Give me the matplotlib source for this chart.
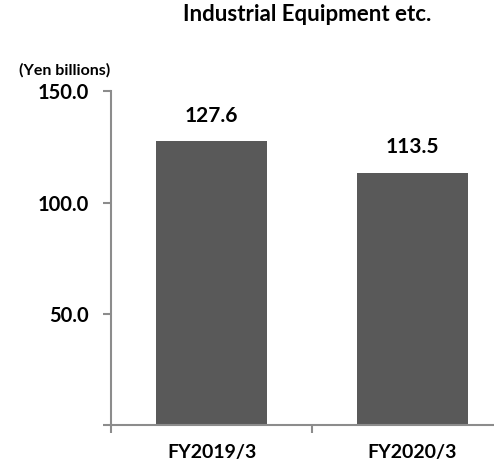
import matplotlib.pyplot as plt
import numpy as np

categories = ['FY2019/3', 'FY2020/3']
values = [127.6, 113.5]
yticks = [0, 50, 100, 150]
ytick_labels = ['', '50.0', '100.0', '150.0']

FONT = 'Lato'
AXIS = '#8c8c8c'
BAR = '#595959'

fig = plt.figure(figsize=(4.94, 4.66), dpi=100)
ax = fig.add_axes([111 / 494, 41 / 466, 402 / 494, 333.5 / 466])

x = np.arange(len(categories))
ax.bar(x, values, width=0.55, color=BAR)

for xi, v in zip(x, values):
    ax.annotate('%.1f' % v, (xi, v), xytext=(0, 11), textcoords='offset points',
                ha='center', va='bottom', fontsize=15, fontweight='bold',
                fontfamily=FONT, color='black')

ax.set_xlim(-0.5, 1.5)
ax.set_ylim(0, 150)
ax.set_yticks(yticks)
ax.set_yticklabels(ytick_labels, fontsize=14.5, fontweight='bold', fontfamily=FONT)
ax.set_xticks(x)
ax.set_xticklabels(categories, fontsize=14, fontweight='bold', fontfamily=FONT)
ax.set_xticks([-0.5, 0.5, 1.5], minor=True)
ax.tick_params(axis='x', which='major', length=0, pad=14)
ax.tick_params(axis='x', which='minor', length=6, width=1.5, color=AXIS)
ax.tick_params(axis='y', length=6, width=1.5, color=AXIS, pad=10)

for s in ['top', 'right']:
    ax.spines[s].set_visible(False)
for s in ['left', 'bottom']:
    ax.spines[s].set_color(AXIS)
    ax.spines[s].set_linewidth(1.5)

fig.text(0.622, 0.968, 'Industrial Equipment etc.', ha='center', va='center',
         fontsize=16, fontweight='bold', fontfamily=FONT)
fig.text(0.13, 0.85, '(Yen billions)', ha='center', va='center',
         fontsize=11.5, fontweight='bold', fontfamily=FONT)

fig.savefig('out.png', dpi=100)
